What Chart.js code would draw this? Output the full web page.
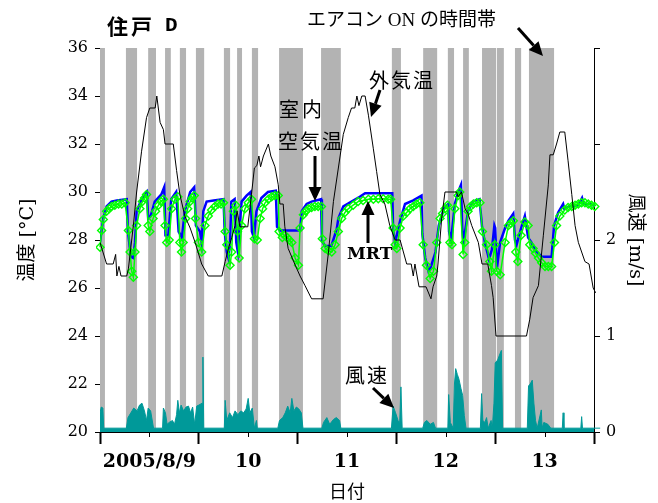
<!DOCTYPE html>
<html>
<head>
<meta charset="utf-8">
<script src="https://cdn.jsdelivr.net/npm/chart.js@4"></script>
<style>
  body { margin: 0; background: #fff; }
  #wrap { width: 658px; height: 503px; }
</style>
</head>
<body>
<div id="wrap"><canvas id="chart" width="658" height="503"></canvas></div>
<script>
// hours from 2005/8/9 0:00
const dayLabels = ['2005/8/9', '10', '11', '12', '13'];

// air conditioner ON periods (start / end hour)
const acStart = [0, 6.3, 11.7, 15.8, 19.4, 23.3, 30.1, 33.3, 36.9, 43.5, 53.7, 70.9, 78.5, 84.5, 88.2, 92.8, 96.4, 100.8, 104.2];
const acEnd   = [1.2, 9.0, 13.6, 17.2, 20.9, 25.3, 31.6, 34.5, 38.4, 49.3, 58.5, 73.1, 81.9, 86.0, 89.6, 96.2, 98.1, 102.3, 110.3];

// outdoor air temperature
const outHours = [0, 1.6, 3.2, 3.8, 4.1, 4.6, 5.1, 6.5, 6.9, 8.1, 8.9, 10.1, 11.3, 12.1, 13.4, 13.8, 14.6, 15.4, 15.8, 17.8,
  18.6, 19.4, 20.6, 21.9, 23.1, 24.7, 26.3, 29.6, 30.4, 31.2, 32.0, 32.8, 33.3, 34.0, 35.9, 36.8, 37.5, 38.1, 38.6, 39.0,
  39.7, 40.9, 41.5, 42.5, 43.3, 43.7, 44.5, 44.9, 45.7, 47.4, 48.6, 49.8, 51.4, 54.2, 55.5, 56.7, 57.9, 59.1, 60.3, 61.1,
  61.9, 62.4, 62.9, 63.6, 64.4, 65.2, 66.4, 67.2, 68.0, 69.2, 70.4, 71.7, 72.9, 74.5, 75.6, 76.1, 76.5, 77.5, 79.2, 80.4,
  80.9, 81.8, 82.1, 83.0, 83.8, 86.6, 87.0, 87.8, 88.7, 89.4, 90.3, 91.9, 92.8, 94.2, 95.1, 95.5, 96.2, 103.6, 104.4, 105.2,
  106.5, 107.7, 108.9, 109.3, 110.1, 110.9, 111.7, 112.9, 113.7, 114.6, 115.4, 116.2, 117.0, 117.8, 118.8, 119.8, 120.4];
const outTemp = [27.9, 27.0, 27.0, 27.4, 26.5, 26.9, 26.5, 26.5, 26.8, 28.6, 30.0, 31.7, 33.1, 33.5, 33.5, 34.0, 32.9, 32.6, 32.0, 32.0,
  30.9, 29.9, 29.0, 28.5, 27.9, 27.0, 26.5, 26.5, 27.1, 27.65, 28.1, 28.6, 29.2, 28.55, 28.55, 29.9, 31.0, 31.1, 31.5, 31.05,
  31.5, 32.0, 31.5, 31.05, 30.3, 29.5, 29.5, 28.55, 27.65, 26.96, 26.5, 26.1, 25.55, 25.55, 27.5, 29.6, 31.0, 32.4, 33.1, 33.5,
  33.5, 34.0, 33.6, 34.0, 34.0, 33.2, 31.8, 30.85, 29.9, 29.5, 28.6, 28.0, 28.0, 27.0, 27.0, 26.5, 27.0, 26.05, 26.05, 25.55,
  26.05, 26.5, 27.0, 28.9, 30.0, 30.0, 29.8, 30.0, 29.3, 29.1, 28.6, 27.9, 27.0, 27.0, 26.1, 25.6, 24.0, 24.0, 24.7, 25.6,
  26.1, 28.2, 30.3, 31.55, 31.55, 32.0, 32.5, 32.5, 31.3, 29.9, 28.6, 27.9, 27.5, 27.1, 27.0, 26.0, 25.8];

// room air temperature
const roomHours = [0, 0.8, 1.6, 2.8, 4.1, 6.5, 6.8, 7.5, 8.1, 8.5, 8.9, 10.1, 11.4, 11.7, 12.3, 13.3, 14.9, 15.6, 15.9, 16.6,
  17.3, 18.5, 19.1, 19.9, 20.6, 21.9, 22.9, 23.3, 24.3, 24.7, 25.1, 25.9, 27.6, 30.0, 30.3, 30.8, 31.2, 31.6, 31.9, 32.7,
  33.1, 33.5, 33.9, 34.4, 35.6, 36.6, 36.9, 37.4, 38.0, 39.2, 40.8, 42.7, 43.0, 43.7, 45.6, 47.8, 48.6, 49.0, 50.2, 51.4,
  53.7, 53.9, 54.6, 56.2, 57.5, 57.9, 59.1, 61.1, 63.1, 64.4, 71.0, 71.2, 71.7, 72.9, 74.1, 76.1, 78.1, 78.3, 79.0, 79.8,
  80.4, 81.5, 82.3, 83.5, 84.6, 84.8, 85.3, 86.2, 87.0, 87.7, 88.0, 88.3, 89.4, 90.6, 92.2, 92.8, 93.5, 94.5, 95.2, 95.8,
  96.0, 96.4, 97.2, 98.4, 99.2, 100.4, 100.8, 101.2, 102.3, 103.2, 104.0, 104.8, 105.6, 107.3, 109.7, 110.3, 111.3, 112.5, 112.8, 113.9,
  116.2, 117.1, 117.5, 119.2, 120.2];
const roomTemp = [27.9, 28.9, 29.4, 29.6, 29.65, 29.7, 28.35, 27.3, 27.25, 27.9, 29.2, 29.7, 30.0, 28.9, 29.0, 29.6, 29.9, 30.2, 28.2, 28.2,
  29.7, 30.0, 28.35, 28.1, 29.2, 30.0, 30.2, 28.6, 28.35, 27.9, 29.2, 29.6, 29.65, 29.7, 28.35, 27.5, 27.25, 27.9, 29.6, 29.7,
  27.9, 27.5, 28.55, 29.6, 29.85, 30.0, 28.35, 28.1, 29.2, 29.75, 30.0, 30.05, 28.55, 28.4, 28.4, 28.4, 28.4, 29.2, 29.5, 29.6,
  29.7, 28.0, 27.75, 27.75, 28.45, 28.9, 29.4, 29.6, 29.8, 29.95, 29.95, 28.4, 27.9, 28.8, 29.5, 29.65, 29.85, 28.25, 27.25, 26.7,
  26.9, 27.5, 28.6, 29.3, 29.5, 28.35, 28.0, 29.5, 30.0, 30.3, 28.5, 27.9, 29.2, 29.6, 29.7, 28.55, 27.9, 27.2, 27.6, 28.6,
  28.5, 26.8, 27.9, 28.5, 28.8, 29.1, 28.0, 27.8, 28.5, 29.0, 28.1, 27.9, 27.6, 27.3, 27.3, 28.6, 29.15, 29.5, 29.3, 29.4,
  29.45, 29.75, 29.5, 29.5, 29.4];

// MRT
const mrtHours = [0, 0.4, 0.8, 1.6, 2.2, 2.8, 3.6, 4.5, 5.3, 6.1, 6.9, 7.3, 7.7, 8.1, 8.5, 8.9, 9.7, 10.3, 10.8, 11.3,
  11.7, 12.1, 12.9, 13.5, 14.2, 14.8, 15.4, 15.8, 16.2, 16.8, 17.4, 18.2, 18.9, 19.4, 19.8, 20.2, 20.8, 21.3, 21.9, 22.4,
  22.9, 23.2, 23.9, 24.7, 25.5, 26.3, 27.1, 27.9, 28.7, 29.4, 30.0, 30.4, 30.8, 31.6, 32.0, 32.4, 33.0, 33.4, 33.8, 34.4,
  35.2, 36.0, 36.8, 37.5, 38.2, 38.9, 39.5, 40.1, 40.9, 41.7, 42.5, 43.3, 43.5, 44.3, 44.9, 45.5, 46.0, 46.6, 47.4, 48.2,
  48.6, 49.4, 50.0, 50.6, 51.4, 52.2, 53.0, 53.8, 54.0, 54.7, 55.5, 56.3, 57.1, 57.9, 58.7, 59.5, 60.3, 61.5, 62.7, 63.9,
  65.2, 66.4, 67.6, 68.8, 70.0, 70.6, 71.2, 71.7, 72.1, 72.9, 73.7, 74.5, 75.3, 76.1, 76.9, 77.7, 78.5, 79.3, 80.2, 81.0,
  81.8, 82.6, 83.2, 83.8, 84.4, 85.0, 85.5, 86.2, 87.0, 87.4, 88.2, 88.6, 89.4, 90.0, 90.7, 91.5, 92.3, 92.9, 93.9, 94.7,
  95.1, 95.9, 96.4, 97.2, 98.4, 99.2, 99.8, 100.4, 101.0, 101.5, 102.3, 103.2, 104.0, 104.4, 105.2, 105.8, 106.5, 107.3, 108.1, 108.9,
  109.7, 110.4, 110.9, 111.7, 112.9, 113.7, 114.6, 115.4, 116.2, 117.0, 117.8, 118.6, 119.4, 120.2];
const mrtTemp = [27.7, 28.4, 28.85, 29.2, 29.3, 29.4, 29.45, 29.5, 29.5, 29.55, 28.4, 27.5, 26.7, 26.45, 27.5, 28.6, 29.3, 29.6, 29.75, 29.9,
  28.6, 28.35, 28.9, 29.2, 29.45, 29.6, 29.7, 28.6, 27.9, 28.0, 29.3, 29.7, 29.8, 27.9, 27.5, 27.9, 28.9, 29.3, 29.6, 29.75,
  29.85, 28.9, 27.9, 27.5, 28.6, 29.0, 29.25, 29.4, 29.5, 29.5, 29.55, 28.35, 27.8, 26.95, 27.5, 29.2, 29.45, 28.35, 27.25, 28.6,
  29.3, 29.55, 29.7, 28.05, 28.0, 28.9, 29.3, 29.55, 29.7, 29.8, 29.85, 29.85, 28.35, 28.1, 28.2, 28.1, 28.0, 27.9, 27.25, 26.95,
  28.5, 29.05, 29.2, 29.3, 29.35, 29.4, 29.4, 29.4, 28.05, 27.65, 27.55, 27.5, 27.8, 28.35, 28.9, 29.15, 29.3, 29.45, 29.6, 29.65,
  29.7, 29.7, 29.72, 29.72, 29.7, 29.7, 28.5, 27.8, 27.65, 28.5, 29.0, 29.15, 29.3, 29.4, 29.5, 29.55, 27.8, 26.95, 26.4, 26.7,
  27.9, 28.9, 29.1, 29.3, 29.45, 27.9, 27.8, 29.3, 29.85, 30.0, 27.4, 27.9, 29.2, 29.4, 29.5, 29.55, 29.55, 28.35, 27.8, 27.1,
  26.7, 27.8, 26.7, 26.55, 27.9, 28.6, 28.7, 28.8, 27.5, 27.1, 28.2, 28.75, 28.6, 27.8, 27.65, 27.45, 27.25, 27.05, 26.9, 26.9,
  26.9, 27.9, 28.6, 29.0, 29.25, 29.35, 29.4, 29.45, 29.5, 29.55, 29.55, 29.5, 29.45, 29.4];

// wind speed (m/s)
const windHours = [0, 0.3, 0.7, 0.9, 6.4, 6.8, 7.5, 8.2, 9.0, 9.6, 10.2, 10.8, 11.3, 11.7, 12.3, 13.0,
  15.2, 15.4, 15.9, 16.3, 16.8, 17.6, 18.1, 18.6, 18.9, 19.3, 19.7, 20.3, 20.9, 21.5, 22.0, 22.5, 23.0, 23.5, 24.0, 24.8, 25.0, 25.2,
  30.2, 30.4, 30.8, 31.5, 32.2, 32.8, 33.5, 34.2, 34.9, 35.5, 36.0, 36.4, 37.0, 37.5, 38.0, 38.2,
  43.2, 43.6, 44.4, 45.0, 45.6, 46.2, 46.6, 47.1, 47.7, 48.3, 48.9, 49.3,
  53.9, 54.3, 55.1, 55.8, 56.7, 57.4, 58.2, 58.5,
  70.8, 71.2, 71.8, 72.4, 72.8, 73.1, 73.4,
  78.4, 78.8, 79.4, 80.2, 81.0, 81.5,
  84.5, 84.7, 85.1, 85.8, 86.1, 86.4, 86.8, 87.2, 87.7, 88.1, 88.5, 88.9,
  92.4, 92.7, 93.0, 93.5, 93.9, 94.3, 95.0, 95.3, 95.7, 96.0, 96.6, 97.2, 97.5, 97.8,
  103.8, 104.1, 104.5, 105.0, 105.4, 105.8, 106.2, 107.2, 107.4, 107.8, 108.8, 109.5,
  112.3, 112.5, 112.7, 116.8, 117.0, 117.2, 121.5];
const windSpeed = [0.2, 0.26, 0.25, 0.04, 0.04, 0.15, 0.2, 0.25, 0.22, 0.28, 0.3, 0.22, 0.12, 0.25, 0.22, 0.04,
  0.04, 0.25, 0.2, 0.08, 0.1, 0.12, 0.08, 0.18, 0.33, 0.2, 0.28, 0.22, 0.26, 0.27, 0.2, 0.26, 0.08, 0.27, 0.28, 0.3, 0.78, 0.04,
  0.04, 0.33, 0.12, 0.2, 0.15, 0.22, 0.18, 0.22, 0.2, 0.24, 0.35, 0.2, 0.25, 0.04, 0.12, 0.04,
  0.04, 0.12, 0.15, 0.2, 0.27, 0.2, 0.35, 0.22, 0.26, 0.24, 0.2, 0.04,
  0.04, 0.1, 0.15, 0.08, 0.13, 0.15, 0.12, 0.04,
  0.04, 0.27, 0.2, 0.12, 0.1, 0.47, 0.04,
  0.04, 0.1, 0.12, 0.08, 0.1, 0.04,
  0.04, 0.39, 0.1, 0.04, 0.5, 0.66, 0.6, 0.55, 0.45, 0.38, 0.17, 0.04,
  0.04, 0.4, 0.12, 0.1, 0.15, 0.04, 0.12, 0.04, 0.3, 0.72, 0.75, 0.82, 0.85, 0.04,
  0.04, 0.48, 0.5, 0.54, 0.3, 0.12, 0.04, 0.23, 0.04, 0.1, 0.08, 0.04,
  0.04, 0.2, 0.04, 0.04, 0.16, 0.04, 0.04];

const toPoints = (xs, ys) => xs.map((x, i) => ({ x: x, y: ys[i] }));

const jpFont = "'Noto Sans CJK JP', sans-serif";
const serifJp = "'DejaVu Serif', 'Noto Sans CJK JP', serif";

// grey bands for AC ON
const acBandsPlugin = {
  id: 'acBands',
  beforeDatasetsDraw(chart) {
    const { ctx, chartArea } = chart;
    const x = chart.scales.x;
    ctx.save();
    ctx.fillStyle = '#b3b3b3';
    acStart.forEach((s, i) => {
      const x1 = x.getPixelForValue(s);
      const x2 = x.getPixelForValue(acEnd[i]);
      ctx.fillRect(x1, chartArea.top, x2 - x1, chartArea.bottom - chartArea.top);
    });
    ctx.restore();
  }
};

function arrow(ctx, x1, y1, x2, y2) {
  const a = Math.atan2(y2 - y1, x2 - x1);
  const hl = 14, hw = 6.5;
  const bx = x2 - hl * Math.cos(a), by = y2 - hl * Math.sin(a);
  ctx.beginPath();
  ctx.moveTo(x1, y1);
  ctx.lineTo(bx, by);
  ctx.lineWidth = 3;
  ctx.stroke();
  ctx.beginPath();
  ctx.moveTo(x2, y2);
  ctx.lineTo(bx + hw * Math.sin(a), by - hw * Math.cos(a));
  ctx.lineTo(bx - hw * Math.sin(a), by + hw * Math.cos(a));
  ctx.closePath();
  ctx.fill();
}

// minor (noon) ticks + labels and arrows
const notesPlugin = {
  id: 'notes',
  afterDraw(chart) {
    const { ctx, chartArea } = chart;
    const x = chart.scales.x;
    ctx.save();
    ctx.strokeStyle = '#000';
    ctx.lineWidth = 1;
    for (let h = 12; h < 120; h += 24) {
      const px = Math.round(x.getPixelForValue(h)) + 0.5;
      ctx.beginPath();
      ctx.moveTo(px, chartArea.bottom);
      ctx.lineTo(px, chartArea.bottom + 5);
      ctx.stroke();
    }

    ctx.fillStyle = '#000';
    ctx.textBaseline = 'middle';
    ctx.textAlign = 'left';

    ctx.font = 'bold 21px ' + jpFont;
    ctx.letterSpacing = '3px';
    ctx.fillText('住戸', 107, 26);
    ctx.letterSpacing = '0px';
    ctx.font = "bold 21px 'Liberation Mono', monospace";
    ctx.fillText('D', 165, 26);

    ctx.font = "19px 'Liberation Serif', 'Noto Sans CJK JP', serif";
    ctx.fillText('エアコン ON の時間帯', 307, 21);

    ctx.font = '20px ' + jpFont;
    ctx.letterSpacing = '2px';
    ctx.fillText('外気温', 369, 80);
    ctx.fillText('空気温', 278, 141);
    ctx.fillText('風速', 345, 375);
    ctx.letterSpacing = '3px';
    ctx.fillText('室内', 279, 109);
    ctx.letterSpacing = '0px';

    ctx.font = "bold 17px 'DejaVu Serif', serif";
    ctx.fillText('MRT', 347, 255);

    ctx.strokeStyle = '#000';
    arrow(ctx, 518, 28, 543, 56);
    arrow(ctx, 380, 90, 371, 117);
    arrow(ctx, 315, 156, 315, 201);
    arrow(ctx, 368, 243, 368, 201);
    arrow(ctx, 373, 388, 394, 408);
    ctx.restore();
  }
};

new Chart(document.getElementById('chart'), {
  type: 'line',
  data: {
    datasets: [
      {
        label: '外気温',
        data: toPoints(outHours, outTemp),
        yAxisID: 'y',
        borderColor: '#000',
        borderWidth: 1,
        pointRadius: 0,
        clip: { left: 0, top: 0, right: 8, bottom: 0 }
      },
      {
        label: 'MRT',
        data: toPoints(mrtHours, mrtTemp),
        yAxisID: 'y',
        borderColor: '#00ff00',
        borderWidth: 1.5,
        pointStyle: 'rectRot',
        pointRadius: 4,
        pointBorderWidth: 1.4,
        pointBorderColor: '#00ff00',
        pointBackgroundColor: 'rgba(0,0,0,0)',
        clip: { left: 4, top: 0, right: 8, bottom: 0 }
      },
      {
        label: '室内空気温',
        data: toPoints(roomHours, roomTemp),
        yAxisID: 'y',
        borderColor: '#0000ff',
        borderWidth: 2.5,
        pointRadius: 0,
        clip: { left: 0, top: 0, right: 8, bottom: 0 }
      },
      {
        label: '風速',
        data: toPoints(windHours, windSpeed),
        yAxisID: 'y2',
        borderColor: '#009999',
        backgroundColor: '#009999',
        borderWidth: 1,
        pointRadius: 0,
        fill: 'origin',
        clip: { left: 0, top: 0, right: 8, bottom: 0 }
      }
    ]
  },
  options: {
    responsive: false,
    animation: false,
    devicePixelRatio: 1,
    layout: { padding: { top: 48, left: 0, right: 0, bottom: 0 } },
    plugins: {
      legend: { display: false },
      tooltip: { enabled: false }
    },
    scales: {
      x: {
        type: 'linear',
        position: 'bottom',
        min: 0,
        max: 120,
        afterFit: s => { s.height = 71; },
        border: { color: '#000', width: 1 },
        grid: {
          drawOnChartArea: false,
          tickLength: 12,
          tickWidth: 2,
          tickColor: c => (c.tick && c.tick.value % 24 === 0) ? '#000' : 'rgba(0,0,0,0)'
        },
        ticks: {
          stepSize: 12,
          autoSkip: false,
          maxRotation: 0,
          padding: 7,
          color: '#000',
          font: { family: "'DejaVu Serif', serif", size: 19, weight: 'bold' },
          callback: v => (v % 24 === 12) ? dayLabels[(v - 12) / 24] : ''
        },
        title: {
          display: true,
          text: '日付',
          color: '#000',
          font: { family: jpFont, size: 18 },
          padding: { top: 0, bottom: 1 }
        }
      },
      y: {
        position: 'left',
        min: 20,
        max: 36,
        afterFit: s => { s.width = 100; },
        border: { color: '#000', width: 1 },
        grid: { drawOnChartArea: false, tickLength: 5, tickColor: '#000' },
        ticks: {
          stepSize: 2,
          padding: 7,
          color: '#000',
          font: { family: "'DejaVu Serif', serif", size: 16 }
        },
        title: {
          display: true,
          text: '温度 [°C]',
          color: '#000',
          font: { family: serifJp, size: 19 },
          padding: { top: 17, bottom: 0 }
        }
      },
      y2: {
        position: 'right',
        min: 0,
        max: 4,
        afterFit: s => { s.width = 64; },
        border: { color: '#000', width: 1 },
        grid: { drawOnChartArea: false, tickLength: 6, tickColor: '#000' },
        ticks: {
          stepSize: 1,
          padding: 6,
          color: '#000',
          font: { family: "'DejaVu Serif', serif", size: 16 },
          callback: v => v <= 2 ? v : ''
        },
        title: {
          display: true,
          text: '風速 [m/s]',
          color: '#000',
          font: { family: serifJp, size: 19 },
          padding: { top: 12, bottom: 0 }
        }
      }
    }
  },
  plugins: [acBandsPlugin, notesPlugin]
});
</script>
</body>
</html>
